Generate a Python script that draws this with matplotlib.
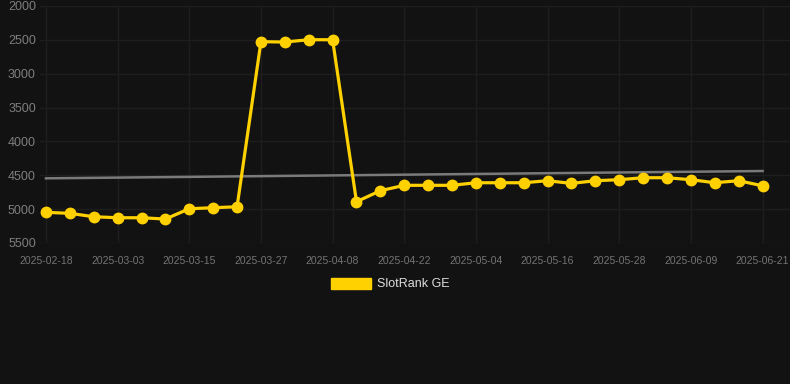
import numpy as np
import matplotlib.pyplot as plt
from matplotlib.patches import Patch

plt.rcParams['font.family'] = ['Liberation Sans', 'DejaVu Sans']

# tick labels shown every third point
tick_labels = ['2025-02-18', '2025-03-03', '2025-03-15', '2025-03-27', '2025-04-08',
               '2025-04-22', '2025-05-04', '2025-05-16', '2025-05-28', '2025-06-09',
               '2025-06-21']

# rank values (lower is better, axis inverted)
rank = [5047, 5062, 5112, 5127, 5127, 5146, 4994, 4979, 4965,
        2527, 2532, 2498, 2498,
        4890, 4728, 4648, 4648, 4648, 4610, 4610, 4610, 4580, 4620,
        4580, 4565, 4536, 4536, 4565, 4610, 4580, 4655]

trend_start = 4545
trend_end = 4437

bg = '#121212'
gold = '#FFD100'

x = np.arange(len(rank))

fig = plt.figure(figsize=(7.9, 3.84), dpi=100, facecolor=bg)
ax = fig.add_axes([40 / 790, 1 - 243 / 384, 750 / 790, 237 / 384])
ax.set_facecolor(bg)

ax.plot([x[0], x[-1]], [trend_start, trend_end], color='#7a7a7a', lw=1.8, zorder=2)
ax.plot(x, rank, color=gold, lw=2.3, marker='o', ms=7.5, zorder=3)

ax.set_ylim(5500, 2000)
ax.set_yticks(np.arange(2000, 5501, 500))
ax.set_xlim(-0.25, 31.15)
ax.set_xticks(x[::3])
ax.set_xticklabels(tick_labels)

ax.grid(True, color='#1e1e1e', lw=1)
for s in ax.spines.values():
    s.set_visible(False)
ax.tick_params(axis='y', length=0, pad=3, labelsize=9, labelcolor='#7e7e7e')
ax.tick_params(axis='x', length=0, pad=9, labelsize=7.5, labelcolor='#747474')

fig.legend(handles=[Patch(color=gold, label='SlotRank GE')],
           loc='center', bbox_to_anchor=(390 / 790, 1 - 284 / 384),
           frameon=False, handlelength=3.2, handleheight=1.0, handletextpad=0.5,
           fontsize=9, labelcolor='#dddddd')

fig.savefig('out.png', dpi=100, facecolor=bg)
